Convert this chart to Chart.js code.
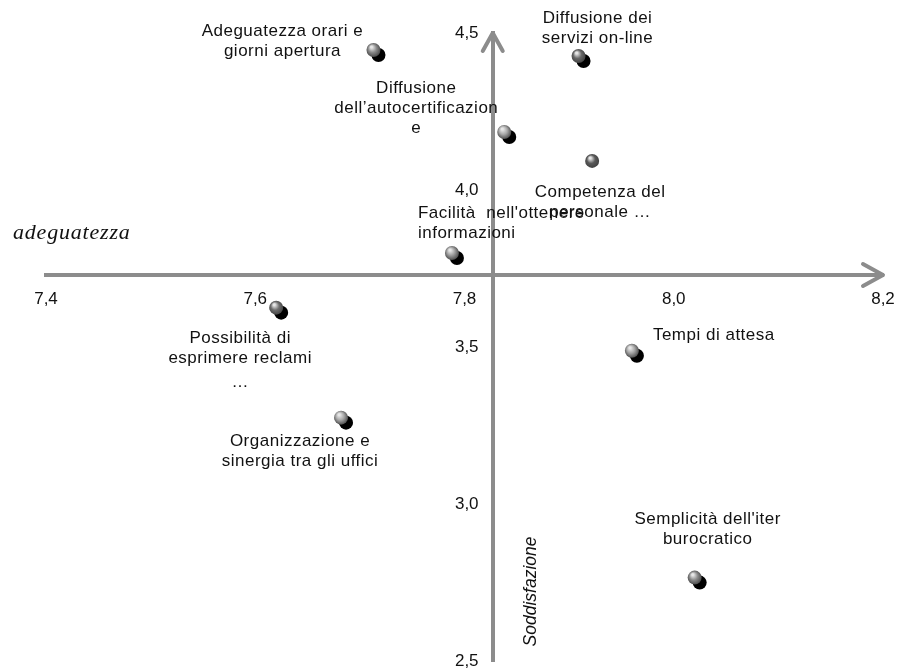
<!DOCTYPE html>
<html>
<head>
<meta charset="utf-8">
<script src="https://cdn.jsdelivr.net/npm/chart.js@4.4.1/dist/chart.umd.min.js"></script>
<style>
  body { margin: 0; background: #fff; }
  #wrap { width: 901px; height: 670px; }
</style>
</head>
<body>
<div id="wrap"><canvas id="mappa"></canvas></div>
<script>
// voci della mappa (in ordine)
const voci = [
    ['Adeguatezza orari e', 'giorni apertura'],
    ['Diffusione dei', 'servizi on-line'],
    ['Diffusione', 'dell\u2019autocertificazion', 'e'],
    ['Competenza del', 'personale \u2026'],
    ['Facilit\u00e0  nell\'ottenere', 'informazioni'],
    ['Possibilit\u00e0 di', 'esprimere reclami', '\u2026'],
    ['Tempi di attesa'],
    ['Organizzazione e', 'sinergia tra gli uffici'],
    ['Semplicit\u00e0 dell\'iter', 'burocratico']
];
const adeguatezza   = [7.713, 7.909, 7.838, 7.922, 7.788, 7.620, 7.960, 7.682, 8.020];
const soddisfazione = [4.446, 4.427, 4.185, 4.093, 3.800, 3.626, 3.489, 3.276, 2.767];

const xTickLabels = ['7,4', '7,6', '7,8', '8,0', '8,2'];
const yTickLabels = ['2,5', '3,0', '3,5', '4,0', '4,5'];

// dove si incrociano gli assi
const crossX = 7.827;
const crossY = 3.73;

// aspetto dei pallini
const tinte = ['#8a8a8a', '#686868', '#a8a8a8', '#5a5a5a', '#9c9c9c', '#6e6e6e', '#a2a2a2', '#a6a6a6', '#8a8a8a'];
const ombra = [true, true, true, false, true, true, true, true, true];

// posizione delle etichette rispetto al punto: [dx, dy prima riga, allineamento]
const etichette = [
    [-91, -19, 'center'],
    [19, -38, 'center'],
    [-88, -44, 'center'],
    [8, 31, 'center'],
    [-34, -40, 'left'],
    [-36, 31, 'center'],
    [21, -15, 'left'],
    [-41, 24, 'center'],
    [13, -58, 'center']
];

const grigio = '#8c8c8c';
const sans = '"Liberation Sans", Arial, sans-serif';

function punti(conOmbra) {
    return adeguatezza
        .map((x, i) => ({ x: x, y: soddisfazione[i], i: i }))
        .filter(p => ombra[p.i] === conOmbra);
}

function sfera(c) {
    const raw = c.raw;
    if (!raw) return '#888';
    const ch = c.chart;
    const px = ch.scales.x ? ch.scales.x.getPixelForValue(raw.x) : NaN;
    const py = ch.scales.y ? ch.scales.y.getPixelForValue(raw.y) : NaN;
    if (!isFinite(px) || !isFinite(py)) return tinte[raw.i];
    const g = ch.ctx.createRadialGradient(px - 2, py - 3, 1, px, py, 8);
    g.addColorStop(0, '#e6e6e6');
    g.addColorStop(0.45, tinte[raw.i]);
    g.addColorStop(1, '#3c3c3c');
    return g;
}

const ombraPlugin = {
    id: 'ombra',
    beforeDatasetDraw(chart, args) {
        if (!chart.data.datasets[args.index].ombra) return;
        const ctx = chart.ctx;
        ctx.save();
        ctx.shadowColor = '#000';
        ctx.shadowOffsetX = 5;
        ctx.shadowOffsetY = 5;
        ctx.shadowBlur = 0;
    },
    afterDatasetDraw(chart, args) {
        if (!chart.data.datasets[args.index].ombra) return;
        chart.ctx.restore();
    }
};

const decoriPlugin = {
    id: 'decori',
    afterDraw(chart) {
        const ctx = chart.ctx;
        const ax = chart.scales.x.getPixelForValue(crossX);
        const ay = chart.scales.y.getPixelForValue(crossY);
        const right = chart.chartArea.right;
        const top = chart.chartArea.top;

        // frecce
        ctx.save();
        ctx.strokeStyle = grigio;
        ctx.lineWidth = 4;
        ctx.lineCap = 'round';
        ctx.lineJoin = 'round';
        ctx.beginPath();
        ctx.moveTo(right - 20, ay - 11);
        ctx.lineTo(right, ay);
        ctx.lineTo(right - 20, ay + 11);
        ctx.moveTo(ax - 10, top + 18);
        ctx.lineTo(ax, top);
        ctx.lineTo(ax + 10, top + 18);
        ctx.stroke();
        ctx.restore();

        // etichette dei punti
        ctx.save();
        ctx.fillStyle = '#111';
        ctx.font = '17px ' + sans;
        ctx.letterSpacing = '0.5px';
        ctx.textBaseline = 'middle';
        chart.data.datasets.forEach((ds, d) => {
            chart.getDatasetMeta(d).data.forEach((el, k) => {
                const i = ds.data[k].i;
                const [dx, dy, align] = etichette[i];
                ctx.textAlign = align;
                voci[i].forEach((riga, r) => {
                    const extra = riga === '\u2026' ? 4 : 0;
                    ctx.fillText(riga, el.x + dx, el.y + dy + r * 20 + extra);
                });
            });
        });
        ctx.restore();

        // titoli degli assi
        ctx.save();
        ctx.fillStyle = '#111';
        ctx.font = 'italic 22px "Liberation Serif", "Times New Roman", serif';
        ctx.letterSpacing = '0.8px';
        ctx.textAlign = 'left';
        ctx.textBaseline = 'middle';
        ctx.fillText('adeguatezza', 13, ay - 42);
        ctx.translate(ax + 38, chart.chartArea.bottom - 70);
        ctx.rotate(-Math.PI / 2);
        ctx.font = 'italic 17.5px ' + sans;
        ctx.letterSpacing = '0px';
        ctx.textAlign = 'center';
        ctx.fillText('Soddisfazione', 0, 0);
        ctx.restore();
    }
};

// tacche invisibili: servono solo a distanziare le etichette dall'asse
const tacche = (len) => ({ display: true, color: 'rgba(0,0,0,0)', drawOnChartArea: false, drawTicks: true, tickLength: len });

new Chart(document.getElementById('mappa'), {
    type: 'scatter',
    data: {
        datasets: [
            {
                label: 'con ombra',
                data: punti(true),
                ombra: true,
                pointRadius: 7,
                pointHoverRadius: 7,
                pointBorderWidth: 0,
                backgroundColor: sfera
            },
            {
                label: 'senza ombra',
                data: punti(false),
                ombra: false,
                pointRadius: 7,
                pointHoverRadius: 7,
                pointBorderWidth: 0,
                backgroundColor: sfera
            }
        ]
    },
    options: {
        responsive: true,
        maintainAspectRatio: false,
        animation: false,
        layout: { padding: { left: 46, right: 18, top: 33, bottom: 8 } },
        scales: {
            x: {
                type: 'linear',
                min: 7.4,
                max: 8.2,
                position: { y: crossY },
                grid: tacche(14),
                border: { color: grigio, width: 4 },
                ticks: {
                    stepSize: 0.2,
                    autoSkip: false,
                    padding: 0,
                    color: '#111',
                    font: { family: sans, size: 17 },
                    callback: (v, i) => xTickLabels[i]
                }
            },
            y: {
                type: 'linear',
                min: 2.5,
                max: 4.5,
                position: { x: crossX },
                grid: { display: false },
                border: { color: grigio, width: 4 },
                ticks: {
                    stepSize: 0.5,
                    autoSkip: false,
                    padding: 0,
                    color: '#111',
                    font: { family: sans, size: 17, lineHeight: 1 },
                    // con l'asse in posizione libera Chart.js non applica il padding: lo fanno gli spazi
                    callback: (v, i) => yTickLabels[i] + '   '
                }
            }
        },
        plugins: {
            legend: { display: false },
            tooltip: { enabled: false }
        }
    },
    plugins: [ombraPlugin, decoriPlugin]
});
</script>
</body>
</html>
